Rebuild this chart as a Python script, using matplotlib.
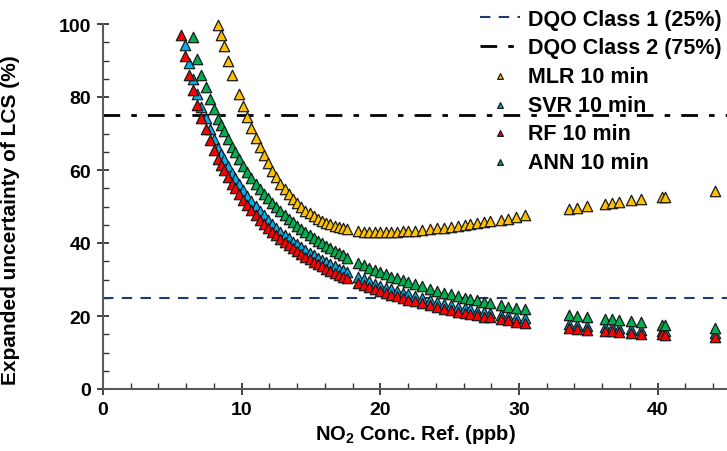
import matplotlib
matplotlib.use("Agg")
import matplotlib.pyplot as plt
from matplotlib.ticker import MultipleLocator
from matplotlib import font_manager
import numpy as np

# ---------------- data ----------------
no2 = [5.6, 5.9, 6.2, 6.5, 6.8, 7.1, 7.4, 7.7, 8.0, 8.3, 8.5, 8.7, 9.0, 9.3, 9.5, 9.8,
       10.1, 10.4, 10.7, 11.0, 11.3, 11.6, 11.9, 12.2, 12.5, 12.8, 13.1, 13.4, 13.7,
       14.0, 14.3, 14.6, 14.9, 15.2, 15.5, 15.8, 16.1, 16.4, 16.7, 17.0, 17.3, 17.6,
       18.4, 18.8, 19.2, 19.6, 20.0, 20.4, 20.8, 21.2, 21.6, 22.0, 22.5, 23.0, 23.6,
       24.1, 24.6, 25.1, 25.6, 26.1, 26.5, 27.0, 27.5, 27.9, 28.7, 29.2, 29.8, 30.4,
       33.6, 34.2, 34.9, 36.2, 36.7, 37.2, 38.1, 38.8, 40.3, 40.5, 44.1]

mlr = [None, None, None, None, None, None, None, None, None, 99.6, 97.0, 94.0, 90.0, 86.0, None, 80.8,
       77.5, 74.5, 71.6, 68.9, 66.4, 64.0, 61.8, 59.8, 58.0, 56.3, 54.8, 53.4, 52.1,
       50.9, 49.8, 48.8, 48.2, 47.3, 46.7, 46.1, 45.6, 45.1, 44.7, 44.3, 44.0, 43.8,
       43.3, 43.1, 43.0, 42.9, 42.9, 43.0, 43.0, 43.1, 43.2, 43.2, 43.4, 43.6, 43.8,
       44.0, 44.2, 44.4, 44.7, 45.0, 45.2, 45.5, 45.8, 46.0, 46.4, 46.7, 47.0, 47.6,
       49.3, 49.6, 50.1, 50.7, 51.0, 51.3, 51.8, 52.1, 52.6, 52.7, 54.2]

svr = [None, 94.3, 89.2, 84.8, 80.8, 77.3, 74.2, 71.3, 68.6, 66.0, 64.3, 62.9, 61.0, 59.1, 57.9, 56.2,
       54.6, 53.0, 51.6, 50.2, 48.8, 47.6, 46.4, 45.2, 44.2, 43.1, 42.2, 41.3, 40.4,
       39.6, 38.8, 38.0, 37.3, 36.7, 36.0, 35.4, 34.8, 34.2, 33.6, 33.0, 32.5, 32.0,
       30.7, 30.1, 29.5, 28.9, 28.3, 27.8, 27.3, 26.9, 26.4, 25.9, 25.4, 24.9, 24.3,
       23.9, 23.4, 23.0, 22.5, 22.1, 21.8, 21.5, 21.1, 20.9, 20.4, 20.1, 19.7, 19.4,
       17.8, 17.6, 17.3, 17.0, 16.9, 16.7, 16.5, 16.3, 16.0, 15.9, 15.3]

rf = [97.0, 91.2, 86.1, 81.8, 77.8, 74.3, 71.2, 68.3, 65.6, 63.0, 61.3, 59.9, 58.0, 56.1, 55.0, 53.3,
      51.8, 50.3, 49.0, 47.7, 46.4, 45.3, 44.2, 43.1, 42.1, 41.1, 40.2, 39.4, 38.5,
      37.7, 37.0, 36.2, 35.5, 34.9, 34.2, 33.6, 33.0, 32.4, 31.8, 31.3, 30.8, 30.3,
      29.0, 28.4, 27.9, 27.3, 26.8, 26.3, 25.8, 25.4, 24.9, 24.5, 24.0, 23.5, 22.9,
      22.5, 22.0, 21.6, 21.2, 20.8, 20.5, 20.2, 19.8, 19.6, 19.1, 18.8, 18.4, 18.1,
      16.7, 16.4, 16.2, 15.9, 15.8, 15.6, 15.4, 15.2, 15.0, 14.9, 14.2]

ann = [None, None, None, 96.5, 90.5, 86.0, 82.7, 79.5, 76.6, 73.9, 72.2, 70.6, 68.4, 66.2, 64.9, 63.0,
       61.1, 59.4, 57.8, 56.3, 54.9, 53.5, 52.2, 51.0, 49.8, 48.7, 47.6, 46.6, 45.7,
       44.7, 43.8, 43.0, 42.2, 41.4, 40.6, 39.9, 39.2, 38.5, 37.9, 37.2, 36.6, 36.0,
       34.6, 33.9, 33.2, 32.6, 32.0, 31.4, 30.8, 30.3, 29.8, 29.3, 28.7, 28.1, 27.4,
       26.9, 26.4, 25.9, 25.5, 25.0, 24.7, 24.3, 23.9, 23.5, 23.0, 22.6, 22.2, 21.9,
       20.3, 20.1, 19.8, 19.3, 19.1, 18.9, 18.5, 18.3, 17.6, 17.5, 16.6]

series_names = ["MLR 10 min", "SVR 10 min", "RF 10 min", "ANN 10 min"]
series_vals = [mlr, svr, rf, ann]
series_colors = ["#FFC000", "#00B0F0", "#FF0000", "#00B050"]

dqo1 = 25
dqo2 = 75
x_ticks = [0, 10, 20, 30, 40]
y_ticks = [0, 20, 40, 60, 80, 100]

# ---------------- fonts ----------------
names = {f.name for f in font_manager.fontManager.ttflist}
base = "Liberation Sans" if "Liberation Sans" in names else "DejaVu Sans"
narrow = "Liberation Sans Narrow" if "Liberation Sans Narrow" in names else base
plt.rcParams["font.family"] = [base, "DejaVu Sans"]
plt.rcParams["font.weight"] = "bold"
plt.rcParams["mathtext.default"] = "bf"
plt.rcParams["mathtext.fontset"] = "custom"
plt.rcParams["mathtext.bf"] = base + ":bold"
plt.rcParams["mathtext.rm"] = base

fig = plt.figure(figsize=(7.27, 4.52), dpi=100)
ax = fig.add_axes([103 / 727, 1 - 390 / 452, 1 - 103 / 727, (390 - 25) / 452])

xs = np.array(no2, dtype=float)
for name, vals, col in zip(series_names, series_vals, series_colors):
    ys = np.array([np.nan if v is None else v for v in vals], dtype=float)
    m = ~np.isnan(ys)
    ax.scatter(xs[m], ys[m], marker="^", s=56, c=col, edgecolors="#1a1a1a",
               linewidths=0.9, label=name, zorder=3, clip_on=False)

ax.axhline(dqo1, color="#1F3A73", ls=(0, (5, 4)), lw=1.5, zorder=2,
           label="DQO Class 1 (25%)")
ax.axhline(dqo2, color="black", ls=(0, (6, 4, 2, 4)), lw=2.0, zorder=2,
           label="DQO Class 2 (75%)")

ax.set_xlim(0, 45)
ax.set_ylim(0, 100)
ax.set_xticks(x_ticks)
ax.set_yticks(y_ticks)
ax.xaxis.set_minor_locator(MultipleLocator(2))
ax.yaxis.set_minor_locator(MultipleLocator(5))

for s in ["top", "right"]:
    ax.spines[s].set_visible(False)
for s in ["left", "bottom"]:
    ax.spines[s].set_color("#5a5a5a")
    ax.spines[s].set_linewidth(1.5)

ax.tick_params(which="major", direction="inout", length=9, width=1.3, color="#333333",
               labelsize=14, pad=4)
ax.tick_params(which="minor", direction="in", length=4, width=1.0, color="#333333")
for lab in ax.get_xticklabels():
    lab.set_fontfamily(narrow)
    lab.set_fontweight("bold")
    lab.set_fontsize(14)
for lab in ax.get_yticklabels():
    lab.set_fontweight("bold")

ax.set_xlabel("NO$_2$ Conc. Ref. (ppb)", fontsize=14.5, fontweight="bold",
              fontfamily=narrow, labelpad=3)
ax.set_ylabel("Expanded uncertainty of LCS (%)", fontsize=15, fontweight="bold")
ax.yaxis.set_label_coords(-0.133, 0.465)

handles, labels = ax.get_legend_handles_labels()
order = [labels.index("DQO Class 1 (25%)"), labels.index("DQO Class 2 (75%)")] + \
        [labels.index(n) for n in series_names]
leg = fig.legend([handles[i] for i in order], [labels[i] for i in order],
                 loc="upper right", bbox_to_anchor=(1.0, 0.99), frameon=False,
                 fontsize=15.5, markerscale=0.55, handlelength=1.9, handletextpad=0.35,
                 labelspacing=0.35, borderaxespad=0.1, borderpad=0.15)
for t in leg.get_texts():
    t.set_fontweight("bold")

fig.savefig("out.png", dpi=100)
